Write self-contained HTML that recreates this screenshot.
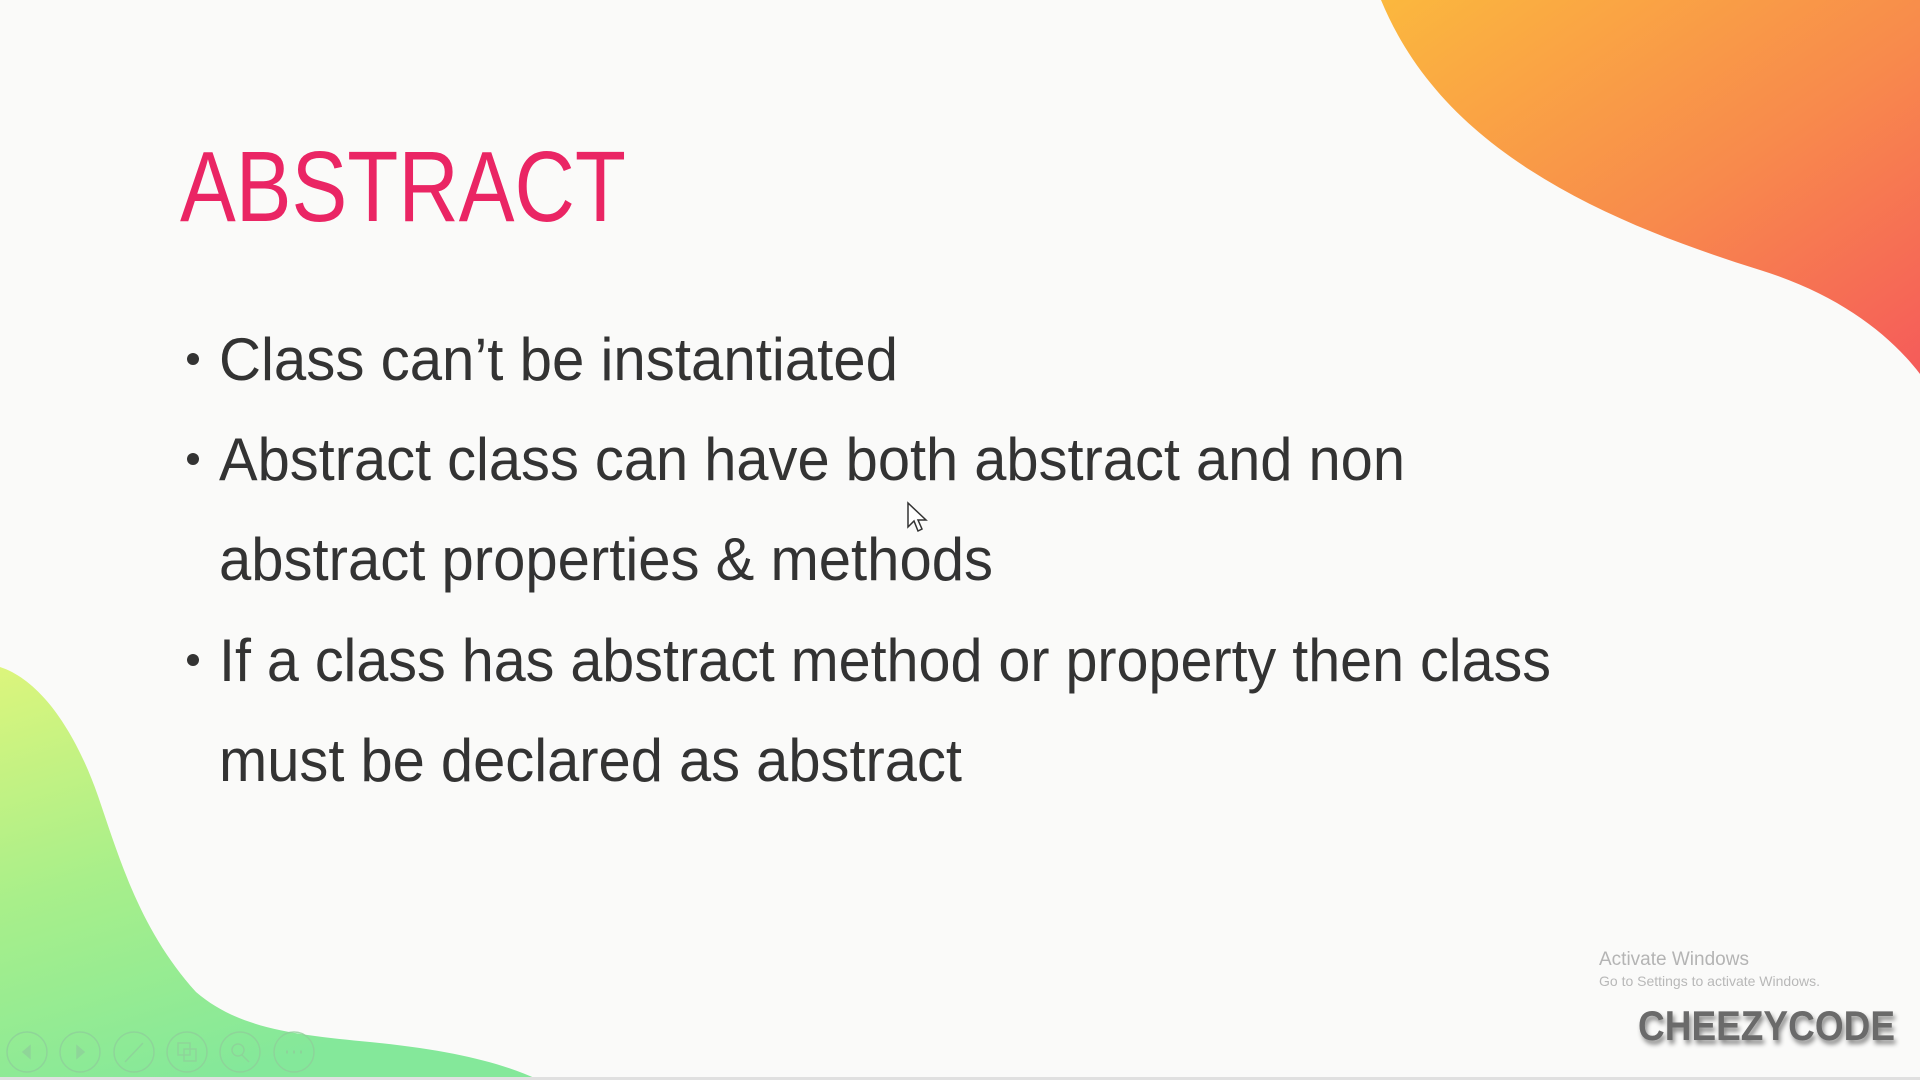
<!DOCTYPE html>
<html><head><meta charset="utf-8"><style>
html,body{margin:0;padding:0;width:1920px;height:1080px;overflow:hidden;background:#fafaf9;}
svg{display:block;font-family:"Liberation Sans",sans-serif;}
</style></head><body>
<svg width="1920" height="1080" viewBox="0 0 1920 1080">
<defs>
<linearGradient id="og" x1="0" y1="0" x2="1" y2="1">
<stop offset="0" stop-color="#fbb83e"/><stop offset="0.55" stop-color="#f88a4c"/><stop offset="1" stop-color="#f55b5a"/>
</linearGradient>
<linearGradient id="gg" x1="0" y1="0" x2="0.4" y2="1">
<stop offset="0" stop-color="#dcf57c"/><stop offset="0.5" stop-color="#a8ef8a"/><stop offset="1" stop-color="#84e89a"/>
</linearGradient>
<filter id="sh" x="-10%" y="-30%" width="120%" height="180%"><feDropShadow dx="2" dy="4" stdDeviation="2.5" flood-color="#000" flood-opacity="0.45"/></filter>
</defs>
<path fill="url(#og)" d="M1381,0 C1410,70 1460,125 1530,170 C1600,215 1680,245 1760,270 C1840,295 1890,335 1920,374 L1920,0 Z"/>
<path fill="url(#gg)" d="M0,667 C40,680 75,730 98,796 C120,860 140,930 196,992 C240,1030 300,1035 370,1042 C450,1050 500,1062 539,1080 L0,1080 Z"/>
<text x="180" y="221" font-size="100" fill="#ea2564" textLength="446" lengthAdjust="spacingAndGlyphs">ABSTRACT</text>
<g fill="#333" font-size="60">
<circle cx="193" cy="359" r="6"/>
<text x="219" y="380" textLength="679" lengthAdjust="spacingAndGlyphs">Class can’t be instantiated</text>
<circle cx="193" cy="459" r="6"/>
<text x="219" y="480" textLength="1186" lengthAdjust="spacingAndGlyphs">Abstract class can have both abstract and non</text>
<text x="219" y="580" textLength="774" lengthAdjust="spacingAndGlyphs">abstract properties &amp; methods</text>
<circle cx="193" cy="660" r="6"/>
<text x="219" y="681" textLength="1332" lengthAdjust="spacingAndGlyphs">If a class has abstract method or property then class</text>
<text x="219" y="781" textLength="743" lengthAdjust="spacingAndGlyphs">must be declared as abstract</text>
</g>
<path d="M908,503 L908,527 L914,521 L918,531 L922,529 L918,520 L926,520 Z" fill="#fff" stroke="#333" stroke-width="1.5"/>
<text x="1599" y="965" font-size="19" fill="#b4b4b4">Activate Windows</text>
<text x="1599" y="986" font-size="14" fill="#b8b8b8">Go to Settings to activate Windows.</text>
<text x="1638" y="1040" font-size="42" font-weight="bold" fill="#6a6a6a" filter="url(#sh)" textLength="257" lengthAdjust="spacingAndGlyphs">CHEEZYCODE</text>
<g fill="none" stroke="#8fd09a" stroke-width="1.5" opacity="0.8">
<circle cx="27" cy="1052" r="20"/>
<path d="M30,1046 L23,1052 L30,1058 Z" fill="#8fd09a"/>
<circle cx="80" cy="1052" r="20"/>
<path d="M77,1046 L84,1052 L77,1058 Z" fill="#8fd09a"/>
<circle cx="134" cy="1052" r="20"/>
<path d="M125,1062 L143,1043"/>
<circle cx="187" cy="1052" r="20"/>
<rect x="178" y="1043" width="12" height="12"/><rect x="184" y="1049" width="12" height="12"/>
<circle cx="240" cy="1052" r="20"/>
<circle cx="238" cy="1050" r="6"/><path d="M242,1055 L249,1062"/>
<circle cx="294" cy="1052" r="20"/>
<path d="M286,1052 h2 M293,1052 h2 M300,1052 h2" stroke-width="3"/>
</g>
<rect x="0" y="1077" width="1920" height="3" fill="#e0e0e0"/>
</svg>
</body></html>
